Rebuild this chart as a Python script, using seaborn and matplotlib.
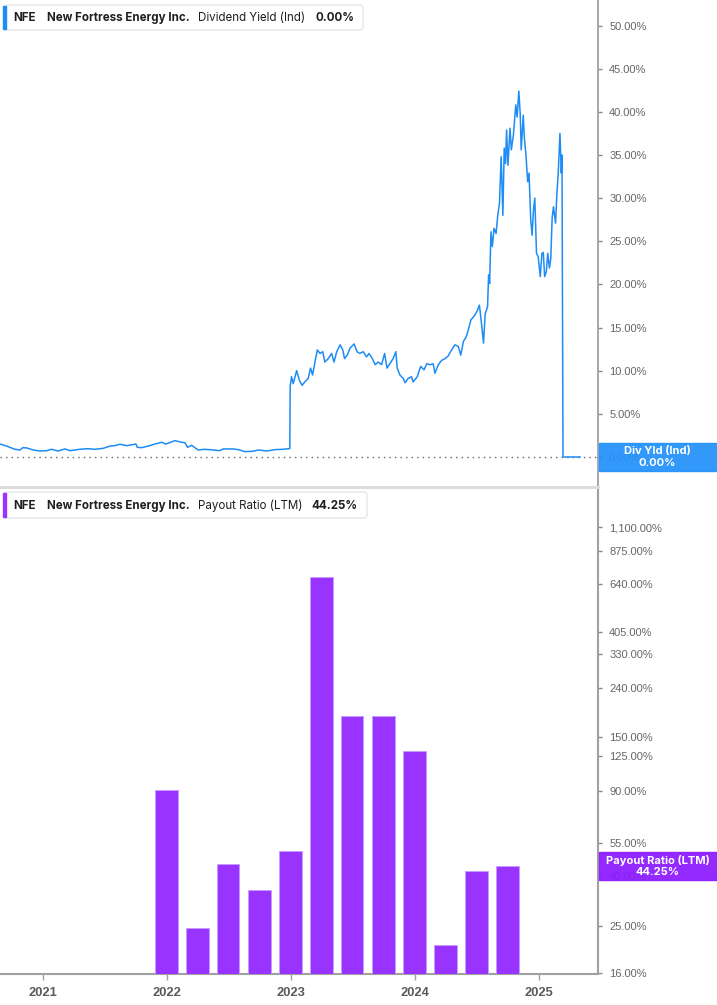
import matplotlib
matplotlib.use("Agg")
import numpy as np
import pandas as pd
import matplotlib.pyplot as plt
import matplotlib.dates as mdates
import seaborn as sns
from matplotlib.patches import FancyBboxPatch, Rectangle
from matplotlib.lines import Line2D
from matplotlib.transforms import IdentityTransform
from matplotlib.ticker import FixedLocator, FuncFormatter, NullLocator

# ---------------- data ----------------
yield_dates = [
    "2020-08-28", "2020-09-16", "2020-10-11", "2020-10-26", "2020-11-03", "2020-11-14",
    "2020-12-04", "2020-12-23", "2021-01-12", "2021-01-27", "2021-02-15", "2021-03-07",
    "2021-03-22", "2021-04-20", "2021-05-12", "2021-06-03", "2021-06-28", "2021-07-18",
    "2021-08-01", "2021-08-16", "2021-09-05", "2021-10-02", "2021-10-06", "2021-10-19",
    "2021-11-08", "2021-11-27", "2021-12-17", "2021-12-29", "2022-01-25", "2022-02-14",
    "2022-02-23", "2022-03-03", "2022-03-15", "2022-04-03", "2022-04-23", "2022-05-17",
    "2022-06-06", "2022-06-16", "2022-07-15", "2022-07-30", "2022-08-19", "2022-09-12",
    "2022-09-27", "2022-10-22", "2022-11-15", "2022-12-09", "2022-12-27", "2022-12-29",
    "2022-12-30", "2023-01-03", "2023-01-08", "2023-01-18", "2023-01-26", "2023-02-03",
    "2023-02-11", "2023-02-21", "2023-02-28", "2023-03-06", "2023-03-13", "2023-03-20",
    "2023-03-28", "2023-04-05", "2023-04-11", "2023-04-21", "2023-05-01", "2023-05-08",
    "2023-05-16", "2023-05-26", "2023-06-03", "2023-06-08", "2023-06-16", "2023-06-24",
    "2023-07-06", "2023-07-15", "2023-07-23", "2023-08-02", "2023-08-12", "2023-08-19",
    "2023-08-29", "2023-09-06", "2023-09-15", "2023-09-25", "2023-10-04", "2023-10-11",
    "2023-10-21", "2023-10-29", "2023-11-06", "2023-11-10", "2023-11-18", "2023-11-28",
    "2023-12-03", "2023-12-12", "2023-12-22", "2023-12-27", "2024-01-08", "2024-01-18",
    "2024-01-28", "2024-02-05", "2024-02-15", "2024-02-24", "2024-02-29", "2024-03-10",
    "2024-03-20", "2024-03-30", "2024-04-08", "2024-04-18", "2024-04-28", "2024-05-08",
    "2024-05-15", "2024-05-23", "2024-05-31", "2024-06-06", "2024-06-14", "2024-06-23",
    "2024-07-01", "2024-07-09", "2024-07-15", "2024-07-21", "2024-07-26", "2024-08-02",
    "2024-08-05", "2024-08-08", "2024-08-12", "2024-08-16", "2024-08-21", "2024-08-27",
    "2024-09-01", "2024-09-06", "2024-09-11", "2024-09-16", "2024-09-20", "2024-09-24",
    "2024-09-27", "2024-10-01", "2024-10-07", "2024-10-11", "2024-10-17", "2024-10-24",
    "2024-10-28", "2024-11-02", "2024-11-06", "2024-11-09", "2024-11-12", "2024-11-15",
    "2024-11-18", "2024-11-23", "2024-11-28", "2024-12-02", "2024-12-07", "2024-12-11",
    "2024-12-15", "2024-12-19", "2024-12-24", "2024-12-29", "2025-01-04", "2025-01-09",
    "2025-01-13", "2025-01-17", "2025-01-22", "2025-01-26", "2025-01-31", "2025-02-04",
    "2025-02-08", "2025-02-12", "2025-02-18", "2025-02-22", "2025-02-26", "2025-03-03",
    "2025-03-07", "2025-03-09", "2025-03-12", "2025-05-02",
]
yield_values = [
    1.50, 1.27, 0.89, 0.81, 1.08, 1.05,
    0.81, 0.69, 0.73, 0.89, 0.69, 0.93,
    0.73, 0.89, 0.96, 0.89, 1.00, 1.27,
    1.31, 1.47, 1.31, 1.50, 1.12, 1.08,
    1.27, 1.50, 1.70, 1.50, 1.89, 1.70,
    1.66, 1.12, 1.35, 0.81, 0.89, 0.81,
    0.73, 0.93, 0.93, 0.85, 0.62, 0.66,
    0.81, 0.69, 0.85, 0.89, 0.96, 1.00,
    8.15, 9.3, 8.5, 10.0, 8.9, 8.3,
    8.7, 9.1, 10.3, 9.5, 11.0, 12.4,
    12.0, 12.2, 11.0, 11.4, 12.0, 11.0,
    12.2, 13.0, 12.4, 11.4, 11.8, 12.6,
    13.1, 12.2, 12.0, 12.2, 11.6, 12.0,
    11.4, 10.7, 11.0, 10.7, 12.0, 10.3,
    10.9, 11.4, 12.2, 10.3, 9.5, 9.1,
    8.6, 9.1, 9.3, 8.7, 9.3, 10.5,
    10.1, 10.8, 10.7, 10.8, 9.7, 10.7,
    11.2, 11.4, 11.7, 12.4, 13.0, 12.8,
    11.8, 13.4, 13.9, 14.7, 15.9, 16.3,
    16.8, 17.6, 15.5, 13.2, 16.6, 17.4,
    21.1, 20.1, 26.1, 24.4, 26.5, 25.9,
    28.0, 29.4, 34.8, 28.0, 35.8, 34.0,
    37.9, 33.8, 38.1, 35.6, 37.3, 40.8,
    39.4, 42.4, 39.8, 35.6, 37.7, 39.6,
    37.1, 35.0, 31.9, 32.9, 27.5, 25.7,
    28.6, 30.0, 23.6, 23.2, 20.9, 23.6,
    23.7, 20.9, 21.5, 23.6, 21.9, 23.0,
    27.7, 29.0, 27.1, 30.5, 32.9, 37.5,
    32.9, 35.0, 0.0, 0.0,
]

payout_dates = ["2021-12-31", "2022-03-31", "2022-06-30", "2022-09-30",
                "2022-12-31", "2023-03-31", "2023-06-30", "2023-09-30",
                "2023-12-31", "2024-03-31", "2024-06-30", "2024-09-30"]
payout_values = [91.0, 24.5, 45.0, 35.1, 50.8, 683.0, 183.0, 183.0, 131.4, 20.9, 42.1, 44.25]

yield_ticks = [0, 5, 10, 15, 20, 25, 30, 35, 40, 45, 50]
payout_ticks = [16, 25, 40, 55, 90, 125, 150, 240, 330, 405, 640, 875, 1100]
year_ticks = ["2021", "2022", "2023", "2024", "2025"]

ticker_name = "NFE"
company = "New Fortress Energy Inc."
top_metric, top_value = "Dividend Yield (Ind)", "0.00%"
bot_metric, bot_value = "Payout Ratio (LTM)", "44.25%"

# ---------------- style ----------------
BLUE = "#1e8cf5"
BOX_BLUE = "#2291fb"
PURPLE = "#9933ff"
BOX_PURPLE = "#8c1aff"
SPINE = "#a0a0a0"
TICKC = "#666666"

sns.set_style("white")
plt.rcParams["font.family"] = ["Liberation Sans", "DejaVu Sans"]

W, H = 717, 1005
fig = plt.figure(figsize=(W / 100, H / 100), dpi=100)
fig.patch.set_facecolor("white")

x_lo, x_hi = pd.Timestamp("2020-08-28"), pd.Timestamp("2025-06-23")

ax1 = fig.add_axes([0, 1 - 487 / H, 598 / W, 487 / H])
ax2 = fig.add_axes([0, 1 - 974 / H, 598 / W, (974 - 488) / H])

# ---- top panel: dividend yield line ----
ax1.axhline(0, color="#666666", lw=1.0, ls=(0, (1, 3)), zorder=1)
sns.lineplot(x=pd.to_datetime(yield_dates), y=yield_values, ax=ax1,
             color=BLUE, lw=1.1, zorder=3)
ax1.set_xlim(x_lo, x_hi)
ax1.set_ylim(-3.48, 52.96)
ax1.set_xlabel("")
ax1.set_ylabel("")
ax1.set_xticks([])
ax1.yaxis.tick_right()
ax1.yaxis.set_major_locator(FixedLocator(yield_ticks))
ax1.yaxis.set_major_formatter(FuncFormatter(lambda v, p: f"{v:.2f}%"))
for s in ["top", "left", "bottom"]:
    ax1.spines[s].set_visible(False)
ax1.spines["right"].set_color(SPINE)
ax1.spines["right"].set_linewidth(1.3)
ax1.tick_params(axis="y", which="major", length=3, width=1, color="#888888",
                labelcolor=TICKC, labelsize=8, pad=5, right=True, left=False)

# ---- bottom panel: payout ratio bars ----
xnum = mdates.date2num(pd.to_datetime(payout_dates))
sns.barplot(x=xnum, y=payout_values, native_scale=True, width=0.75,
            color=PURPLE, saturation=1, ax=ax2, linewidth=0.6,
            edgecolor="#c79bff", zorder=3)
ax2.set_yscale("log")
ax2.set_ylim(15.85, 1594)
ax2.set_xlim(mdates.date2num(x_lo), mdates.date2num(x_hi))
ax2.set_xlabel("")
ax2.set_ylabel("")
ax2.yaxis.tick_right()
ax2.yaxis.set_major_locator(FixedLocator(payout_ticks))
ax2.yaxis.set_minor_locator(NullLocator())
ax2.yaxis.set_major_formatter(FuncFormatter(lambda v, p: f"{v:,.2f}%"))
year_pos = [mdates.date2num(pd.Timestamp(f"{y}-01-01")) for y in year_ticks]
ax2.xaxis.set_major_locator(FixedLocator(year_pos))
ax2.xaxis.set_minor_locator(NullLocator())
ax2.set_xticklabels(year_ticks, fontweight="bold", fontsize=9.3, color="#5a5a5a")
for s in ["top", "left"]:
    ax2.spines[s].set_visible(False)
for s in ["right", "bottom"]:
    ax2.spines[s].set_color(SPINE)
    ax2.spines[s].set_linewidth(1.5)
ax2.tick_params(axis="y", which="major", length=3, width=1, color="#888888",
                labelcolor=TICKC, labelsize=8, pad=5, right=True, left=False)
ax2.tick_params(axis="x", which="major", length=4, width=1, color=SPINE, pad=5,
                bottom=True)

# ---------------- overlays (pixel coordinates) ----------------
T = IdentityTransform()


def py(y):
    return H - y


# separator between panels
fig.add_artist(Line2D([0, 598], [py(487), py(487)], transform=T,
                      color="#dcdcdc", lw=2.2, zorder=5))

# legend boxes
for (y0, y1, acc, metric, val, vx, wbox) in [
        (5, 30, BLUE, top_metric, top_value, 315, 359),
        (492, 518, PURPLE, bot_metric, bot_value, 311, 363)]:
    fig.add_artist(FancyBboxPatch((4, py(y1)), wbox, y1 - y0,
                                  boxstyle="round,pad=0,rounding_size=3",
                                  transform=T, fc="white", ec="#e6e6e6",
                                  lw=1.0, zorder=6))
    fig.add_artist(Rectangle((3, py(y1 - 1)), 3.2, y1 - y0 - 2, transform=T,
                             color=acc, zorder=7))
    yc = py((y0 + y1) / 2 + 0.5)
    kw = dict(transform=T, va="center", ha="left", color="#1e1e1e",
              fontsize=8.3, family=["Inter", "DejaVu Sans"], zorder=8)
    fig.text(13, yc, ticker_name, fontweight="bold", **kw)
    fig.text(47, yc, company, fontweight="bold", **kw)
    fig.text(198, yc, metric, fontweight="normal", **kw)
    fig.text(vx, yc, val, fontweight="bold", **kw)

# right-side value boxes (slightly translucent, the axis label shows through)
for (yc, col, l1, l2) in [(457, BOX_BLUE, "Div Yld (Ind)", top_value),
                          (866, BOX_PURPLE, "Payout Ratio (LTM)", bot_value)]:
    fig.add_artist(Rectangle((598.5, py(yc + 14)), 119, 28, transform=T,
                             color=col, alpha=0.93, zorder=6))
    kw = dict(transform=T, va="center", ha="center", color="white",
              fontsize=8, fontweight="bold", family=["Inter", "DejaVu Sans"],
              zorder=8)
    fig.text(657.5, py(yc - 6), l1, **kw)
    fig.text(657.5, py(yc + 6), l2, **kw)

fig.savefig("out.png", dpi=100, facecolor="white")
